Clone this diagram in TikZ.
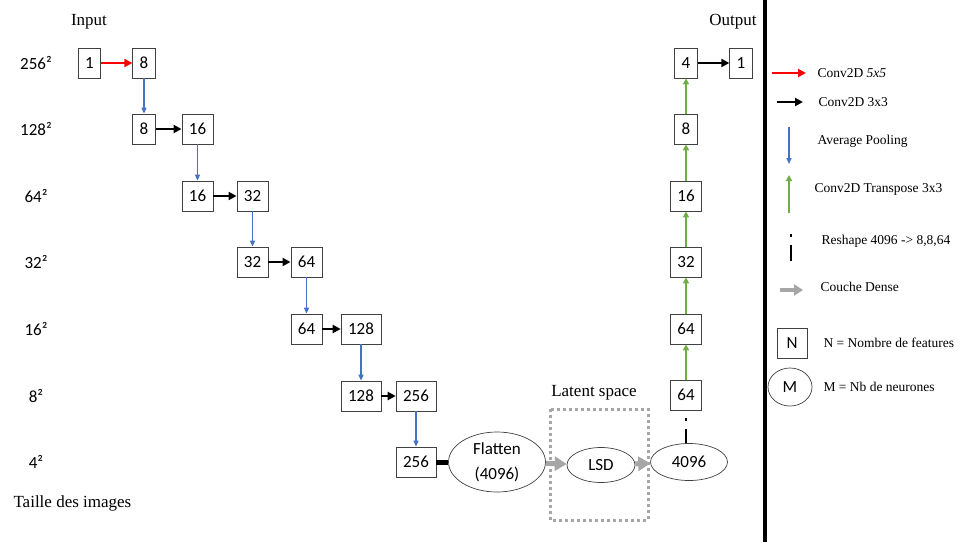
\documentclass[tikz,border=0pt]{standalone}
\usepackage{fontspec}
\setmainfont{Liberation Serif}
\newfontfamily\carlito{Carlito}
\usetikzlibrary{shapes.geometric,arrows.meta}
\definecolor{poolblue}{HTML}{4472C4}
\definecolor{tgreen}{HTML}{70AD47}
\definecolor{dgray}{HTML}{A6A6A6}
\tikzset{
  fm/.style={draw=black!75, line width=0.7pt, font=\carlito\fontsize{17}{17}\selectfont, minimum height=30pt, inner xsep=7pt, inner ysep=0pt},
  el/.style={ellipse, draw=black!75, line width=0.7pt, font=\carlito\fontsize{17}{25}\selectfont, inner sep=0pt, align=center},
  rowlab/.style={font=\carlito\fontsize{17}{17}\selectfont},
  ttl/.style={font=\fontsize{17}{17}\selectfont},
  leg/.style={anchor=west, font=\fontsize{13.5}{13.5}\selectfont},
  convA/.style={red, line width=2.5pt, -{Triangle[length=8pt,width=8pt]}},
  convB/.style={black, line width=2.5pt, -{Triangle[length=8pt,width=8pt]}},
  pool/.style={poolblue, line width=1.4pt, -{Triangle[length=6pt,width=5pt]}},
  tconv/.style={tgreen, line width=1.8pt, -{Triangle[length=6pt,width=6pt]}},
  dense/.style={dgray, line width=5pt, -{Triangle[length=12pt,width=14pt]}},
  reshape/.style={black, line width=2.2pt, dash pattern=on 2.5pt off 8pt on 16pt off 8pt, dash phase=26.5pt}
}
\begin{document}
\begin{tikzpicture}[x=1pt,y=-1pt]
\path[use as bounding box] (0,0) rectangle (962,542);
% titles
\node[ttl] (tin) at (89,22) {Input};
\node[ttl] (tout) at (733,22) {Output};
\node[ttl] (tlat) at (594,393) {Latent space};
\node[ttl, anchor=west] (ttai) at (10,503) {Taille des images};
% row labels
\node[rowlab] (l1) at (36,63) {256²};
\node[rowlab] (l2) at (36,129) {128²};
\node[rowlab] (l3) at (36,196) {64²};
\node[rowlab] (l4) at (36,262) {32²};
\node[rowlab] (l5) at (36,329) {16²};
\node[rowlab] (l6) at (36,396) {8²};
\node[rowlab] (l7) at (36,462) {4²};
% encoder
\node[fm] (a1) at (89.5,63) {1};
\node[fm] (a2) at (144,63) {8};
\node[fm] (b1) at (144,129) {8};
\node[fm] (b2) at (197.5,129) {16};
\node[fm] (c1) at (197.5,196) {16};
\node[fm] (c2) at (252.5,196) {32};
\node[fm] (d1) at (252.5,262) {32};
\node[fm] (d2) at (306.5,262) {64};
\node[fm] (e1) at (306.5,329) {64};
\node[fm] (e2) at (361,329) {128};
\node[fm] (f1) at (361,396) {128};
\node[fm] (f2) at (416,396) {256};
\node[fm] (g1) at (416,462) {256};
\node[el, minimum width=97pt, minimum height=60pt] (flat) at (497,462) {Flatten\\(4096)};
\node[el, minimum width=68pt, minimum height=35pt] (lsd) at (601,465) {LSD};
\node[el, minimum width=77pt, minimum height=37pt] (dec) at (689,462) {4096};
% decoder
\node[fm] (r6) at (686,395) {64};
\node[fm] (r5) at (686,329) {64};
\node[fm] (r4) at (686,262) {32};
\node[fm] (r3) at (686,196) {16};
\node[fm] (r2) at (686,129) {8};
\node[fm] (r1) at (686,63) {4};
\node[fm] (out) at (741,63) {1};
% latent box
\draw[dgray, line width=3pt, dash pattern=on 3pt off 3pt] (550,409) rectangle (648,520);
% connectors
\draw[convA] (a1) -- (a2);
\draw[pool] (a2) -- (b1);
\draw[convB] (b1) -- (b2);
\draw[pool] (b2) -- (c1);
\draw[convB] (c1) -- (c2);
\draw[pool] (c2) -- (d1);
\draw[convB] (d1) -- (d2);
\draw[pool] (d2) -- (e1);
\draw[convB] (e1) -- (e2);
\draw[pool] (e2) -- (f1);
\draw[convB] (f1) -- (f2);
\draw[pool] (f2) -- (g1);
\draw[line width=5pt] (g1.east) -- (flat.west);
\draw[dense] (flat) -- (lsd);
\draw[dense] (lsd) -- (dec);
\draw[reshape] (r6.south) -- (r6.south |- dec.north);
\draw[tconv] (r6) -- (r5);
\draw[tconv] (r5) -- (r4);
\draw[tconv] (r4) -- (r3);
\draw[tconv] (r3) -- (r2);
\draw[tconv] (r2) -- (r1);
\draw[convB] (r1) -- (out);
% divider
\draw[line width=4pt] (765,0) -- (765,542);
% legend
\coordinate (la1) at (772,73); \coordinate (la2) at (806,73);
\draw[convA] (la1) -- (la2);
\node[leg] (ta) at (814,73) {Conv2D \textit{5x5}};
\coordinate (lb1) at (777,102); \coordinate (lb2) at (803,102);
\draw[convB] (lb1) -- (lb2);
\node[leg] (tb) at (815,102) {Conv2D 3x3};
\coordinate (lc1) at (789,127); \coordinate (lc2) at (789,164);
\draw[pool] (lc1) -- (lc2);
\node[leg] (tc) at (814,141) {Average Pooling};
\coordinate (ld1) at (789,213); \coordinate (ld2) at (789,175);
\draw[tconv] (ld1) -- (ld2);
\node[leg] (td) at (811,189) {Conv2D Transpose 3x3};
\coordinate (le1) at (791,226); \coordinate (le2) at (791,263);
\draw[reshape] (le1) -- (le2);
\node[leg] (te) at (818,241) {Reshape 4096 -> 8,8,64};
\coordinate (lf1) at (780,290); \coordinate (lf2) at (803,290);
\draw[dense, line width=4pt, -{Triangle[length=9pt,width=11pt]}] (lf1) -- (lf2);
\node[leg] (tf) at (817,287) {Couche Dense};
\node[fm, minimum width=30pt] (ln) at (792,343) {N};
\node[leg] (tn) at (820,343) {N = Nombre de features};
\node[el, minimum width=44pt, minimum height=38pt] (lm) at (790,387) {M};
\node[leg] (tm) at (820,387) {M = Nb de neurones};
\end{tikzpicture}
\end{document}
